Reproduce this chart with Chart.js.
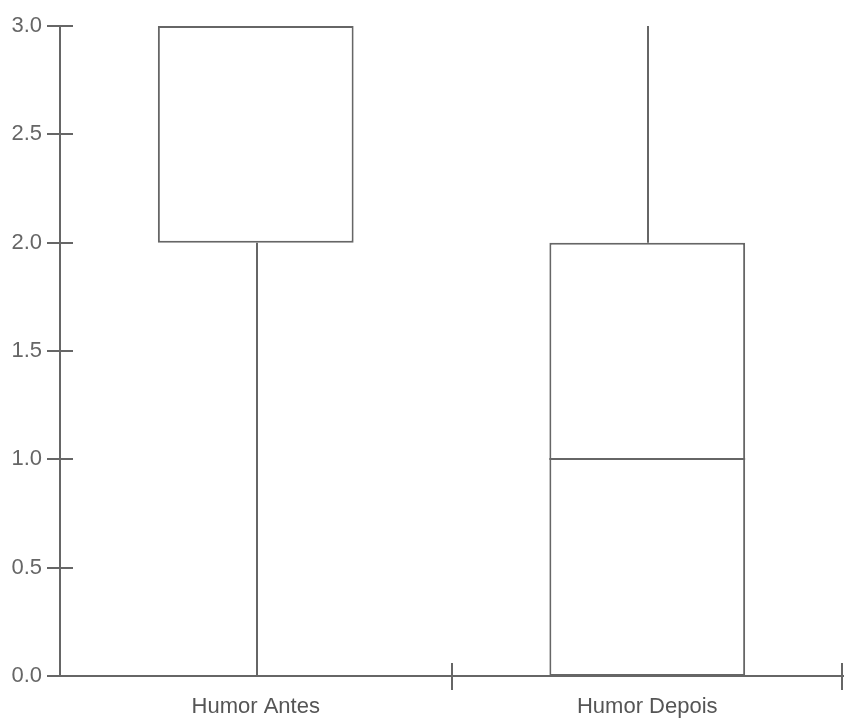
<!DOCTYPE html>
<html>
<head>
<meta charset="utf-8">
<script src="https://cdn.jsdelivr.net/npm/chart.js@4/dist/chart.umd.min.js"></script>
<style>
  html, body { margin: 0; padding: 0; background: #fff; }
  #wrap { width: 844px; height: 720px; }
</style>
</head>
<body>
<div id="wrap"><canvas id="boxChart"></canvas></div>
<script>
// -----------------------------
// Data
// -----------------------------
const categories = ["Humor Antes", "Humor Depois"];
const mins = [0, 0];
const q1s = [2, 0];
const medians = [2, 1];
const q3s = [3, 2];
const maxs = [3, 3];
const yTicks = [0, 0.5, 1, 1.5, 2, 2.5, 3];

const lineColor = "#666";

// -----------------------------
// Whiskers, medians and axis ticks
// -----------------------------
const boxExtras = {
  id: "boxExtras",
  afterDatasetsDraw(chart) {
    const { ctx, scales: { x, y }, chartArea } = chart;
    const meta = chart.getDatasetMeta(0);
    ctx.save();
    ctx.strokeStyle = lineColor;
    ctx.lineWidth = 2;

    meta.data.forEach((bar, i) => {
      const cx = Math.round(bar.x) + 1;
      const half = bar.width / 2;
      const seg = (a, b) => {
        if (a === b) return;
        ctx.beginPath();
        ctx.moveTo(cx, y.getPixelForValue(a));
        ctx.lineTo(cx, y.getPixelForValue(b));
        ctx.stroke();
      };
      seg(q3s[i], maxs[i]);
      seg(mins[i], q1s[i]);

      // median (box edges already drawn when it sits on one)
      if (medians[i] !== q1s[i] && medians[i] !== q3s[i]) {
        const my = Math.round(y.getPixelForValue(medians[i]));
        ctx.beginPath();
        ctx.moveTo(bar.x - half, my);
        ctx.lineTo(bar.x + half, my);
        ctx.stroke();
      }
    });

    // y tick marks crossing the axis
    yTicks.forEach(v => {
      const py = Math.round(y.getPixelForValue(v));
      ctx.beginPath();
      ctx.moveTo(chartArea.left - 13, py);
      ctx.lineTo(chartArea.left + 13, py);
      ctx.stroke();
    });

    // x tick marks at category boundaries (skip the y axis one)
    const step = (chartArea.right - chartArea.left) / categories.length;
    for (let i = 1; i <= categories.length; i++) {
      const px = Math.min(Math.round(chartArea.left + step * i), chartArea.right - 1);
      ctx.beginPath();
      ctx.moveTo(px, chartArea.bottom - 13);
      ctx.lineTo(px, chartArea.bottom + 14);
      ctx.stroke();
    }
    ctx.restore();
  }
};

// -----------------------------
// Chart
// -----------------------------
document.addEventListener("DOMContentLoaded", () => {
  const ctx = document.getElementById("boxChart");

  new Chart(ctx, {
    type: "bar",
    data: {
      labels: categories,
      datasets: [{
        data: q1s.map((v, i) => [v, q3s[i]]),
        backgroundColor: "#fff",
        borderColor: lineColor,
        borderWidth: 2,
        borderSkipped: false,
        barPercentage: 0.5,
        categoryPercentage: 1
      }]
    },
    options: {
      responsive: true,
      maintainAspectRatio: false,
      animation: false,
      layout: { padding: { top: 26, right: 1, left: 0, bottom: 0 } },
      plugins: {
        legend: { display: false },
        tooltip: { enabled: false }
      },
      scales: {
        x: {
          grid: { display: false },
          border: { display: true, color: lineColor, width: 2 },
          afterFit(scale) { scale.height = 44; },
          ticks: {
            color: "#555",
            padding: 10,
            font: { family: "'Liberation Sans', Arial, sans-serif", size: 22 }
          }
        },
        y: {
          min: 0,
          max: 3,
          grid: { display: false },
          border: { display: true, color: lineColor, width: 2 },
          afterFit(scale) { scale.width = 60; },
          afterBuildTicks(scale) { scale.ticks = yTicks.map(v => ({ value: v })); },
          ticks: {
            color: "#666",
            padding: 10,
            font: { family: "'Liberation Sans', Arial, sans-serif", size: 22 },
            callback: v => v.toFixed(1)
          }
        }
      }
    },
    plugins: [boxExtras]
  });
});
</script>
</body>
</html>
